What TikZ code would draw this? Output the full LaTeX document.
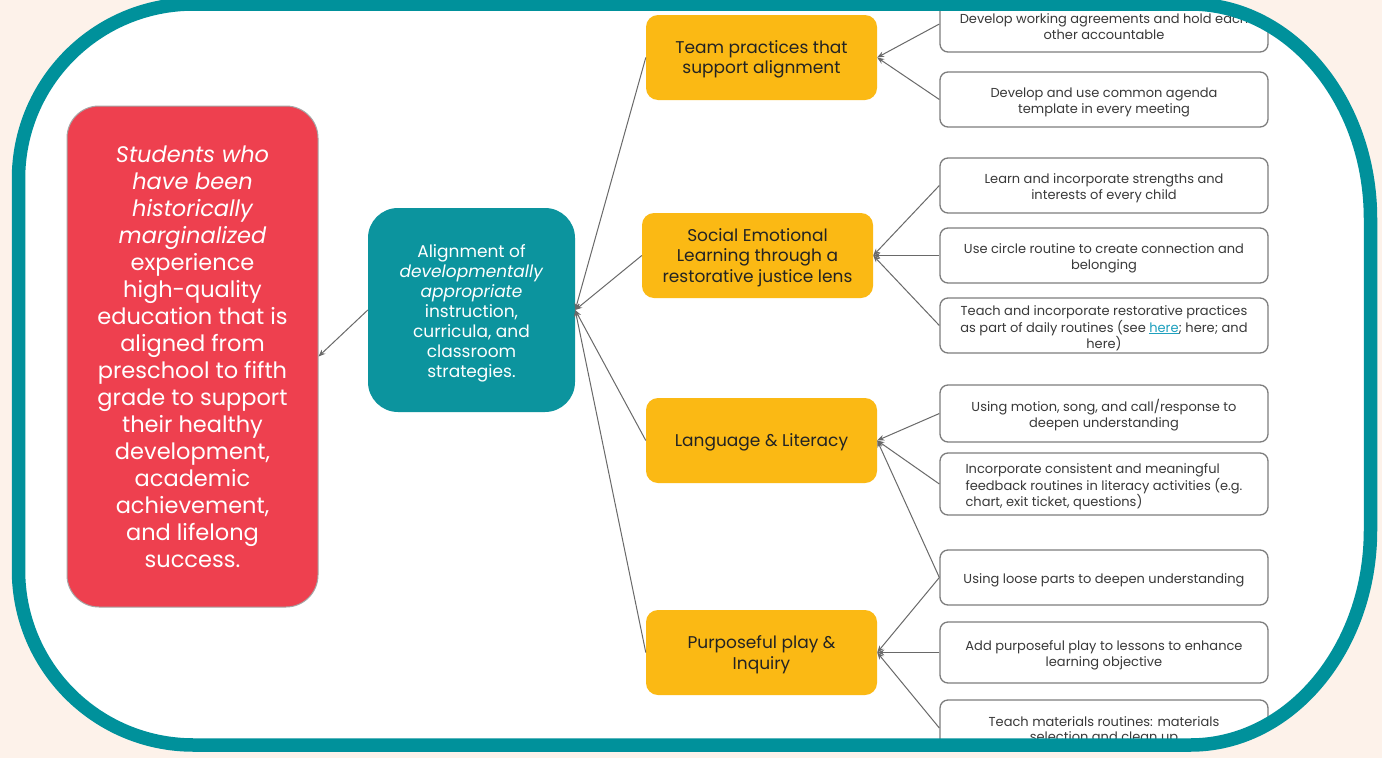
\documentclass[tikz,border=0pt]{standalone}
\usepackage{fontspec}
\setmainfont{Poppins}
\usetikzlibrary{arrows.meta}
\definecolor{cream}{RGB}{253,242,234}
\definecolor{frameteal}{RGB}{0,145,155}
\definecolor{boxteal}{RGB}{12,148,158}
\definecolor{redbox}{RGB}{238,64,79}
\definecolor{orangebox}{RGB}{251,185,20}
\definecolor{conngray}{RGB}{105,105,105}
\definecolor{wborder}{RGB}{125,125,125}
\definecolor{txtdark}{RGB}{35,35,35}
\definecolor{linkblue}{RGB}{30,160,190}
\newcommand\tstrut[1]{\rule{0pt}{#1em}}
\begin{document}
\begin{tikzpicture}[x=1pt,y=-1pt,
  redstyle/.style={fill=redbox,draw=gray!70,line width=1pt,rounded corners=32pt,
    minimum width=251pt,minimum height=501pt,align=center,text=white,
    font=\fontsize{22.5}{27}\selectfont,inner sep=0pt},
  tealstyle/.style={fill=boxteal,rounded corners=30pt,
    minimum width=207pt,minimum height=204pt,align=center,text=white,
    font=\fontsize{17}{20}\selectfont,inner sep=0pt},
  orangestyle/.style={fill=orangebox,rounded corners=12pt,
    minimum width=231pt,minimum height=85pt,align=center,text=txtdark,
    font=\fontsize{17}{20.5}\selectfont,inner sep=0pt},
  wbox/.style={fill=white,draw=wborder,line width=1.3pt,rounded corners=8pt,
    minimum width=328pt,minimum height=55pt,align=center,text=txtdark!90,
    font=\fontsize{13}{15.5}\selectfont,inner sep=0pt},
  conn/.style={draw=conngray,line width=1pt,-{Stealth[length=7pt,width=5.5pt]}}
]
\useasboundingbox (0,0) rectangle (1382,758);
\fill[cream] (0,0) rectangle (1382,758);
% white interior
\fill[white] (193.5,4) -- (1190.5,4)
  .. controls (1289.9,4) and (1370.5,100.3) .. (1370.5,219)
  -- (1370.5,530)
  .. controls (1370.5,648.7) and (1289.9,745) .. (1190.5,745)
  -- (193.5,745)
  .. controls (96.8,745) and (18.5,666.7) .. (18.5,570)
  -- (18.5,179)
  .. controls (18.5,82.3) and (96.8,4) .. (193.5,4) -- cycle;
\begin{scope}
\clip (193.5,4) -- (1190.5,4)
  .. controls (1289.9,4) and (1370.5,100.3) .. (1370.5,219)
  -- (1370.5,530)
  .. controls (1370.5,648.7) and (1289.9,745) .. (1190.5,745)
  -- (193.5,745)
  .. controls (96.8,745) and (18.5,666.7) .. (18.5,570)
  -- (18.5,179)
  .. controls (18.5,82.3) and (96.8,4) .. (193.5,4) -- cycle;

\node[redstyle] (red) at (192.5,356.5) {\itshape Students who\\\itshape have been\\\itshape historically\\\itshape marginalized\\experience\\high-quality\\education that is\\aligned from\\preschool to fifth\\grade to support\\their healthy\\development,\\academic\\achievement,\\and lifelong\\success.};

\node[tealstyle] (teal) at (471.5,310) {\tstrut{1.2}Alignment of\\\textit{developmentally}\\\textit{appropriate}\\instruction,\\curricula, and\\classroom\\strategies.};

\node[orangestyle] (o1) at (761.5,57.5) {\tstrut{1.0}Team practices that\\support alignment};
\node[orangestyle] (o2) at (757.5,255.5) {\tstrut{1.0}Social Emotional\\Learning through a\\restorative justice lens};
\node[orangestyle] (o3) at (761.5,440.5) {\tstrut{1.0}Language \& Literacy};
\node[orangestyle] (o4) at (761.5,652.5) {\tstrut{1.0}Purposeful play \&\\Inquiry};

\node[wbox,minimum height=56pt] (w1) at (1104,24) {\tstrut{1.2}Develop working agreements and hold each\\other accountable};
\node[wbox] (w2) at (1104,99.5) {\tstrut{1.2}Develop and use common agenda\\template in every meeting};
\node[wbox] (w3) at (1104,185.5) {\tstrut{1.2}Learn and incorporate strengths and\\interests of every child};
\node[wbox] (w4) at (1104,255.5) {\tstrut{1.2}Use circle routine to create connection and\\belonging};
\node[wbox] (w5) at (1104,325.5) {\tstrut{1.2}Teach and incorporate restorative practices\\as part of daily routines (see {\color{linkblue}\underline{here}}; here; and\\here)};
\node[wbox,minimum height=57pt] (w6) at (1104,413.5) {\tstrut{1.2}Using motion, song, and call/response to\\deepen understanding};
\node[wbox,minimum height=62pt,align=left] (w7) at (1104,484) {\tstrut{1.2}Incorporate consistent and meaningful\\feedback routines in literacy activities (e.g.\\chart, exit ticket, questions)};
\node[wbox] (w8) at (1104,577.5) {\tstrut{1.2}Using loose parts to deepen understanding};
\node[wbox,minimum height=61pt] (w9) at (1104,652.5) {\tstrut{1.2}Add purposeful play to lessons to enhance\\learning objective};
\node[wbox,minimum height=56pt] (w10) at (1104,728) {\tstrut{1.2}Teach materials routines: materials\\selection and clean up};

\draw[conn] (teal.west) -- (red.east);
\draw[conn] (o1.west) -- (teal.east);
\draw[conn] (o2.west) -- (teal.east);
\draw[conn] (o3.west) -- (teal.east);
\draw[conn] (o4.west) -- (teal.east);
\draw[conn] (w1.west) -- (o1.east);
\draw[conn] (w2.west) -- (o1.east);
\draw[conn] (w3.west) -- (o2.east);
\draw[conn] (w4.west) -- (o2.east);
\draw[conn] (w5.west) -- (o2.east);
\draw[conn] (w6.west) -- (o3.east);
\draw[conn] (w7.west) -- (o3.east);
\draw[conn] (w8.west) -- (o3.east);
\draw[conn] (w8.west) -- (o4.east);
\draw[conn] (w9.west) -- (o4.east);
\draw[conn] (w10.west) -- (o4.east);
\end{scope}

\draw[frameteal,line width=13.5pt] (193.5,4) -- (1190.5,4)
  .. controls (1289.9,4) and (1370.5,100.3) .. (1370.5,219)
  -- (1370.5,530)
  .. controls (1370.5,648.7) and (1289.9,745) .. (1190.5,745)
  -- (193.5,745)
  .. controls (96.8,745) and (18.5,666.7) .. (18.5,570)
  -- (18.5,179)
  .. controls (18.5,82.3) and (96.8,4) .. (193.5,4) -- cycle;
\end{tikzpicture}
\end{document}
